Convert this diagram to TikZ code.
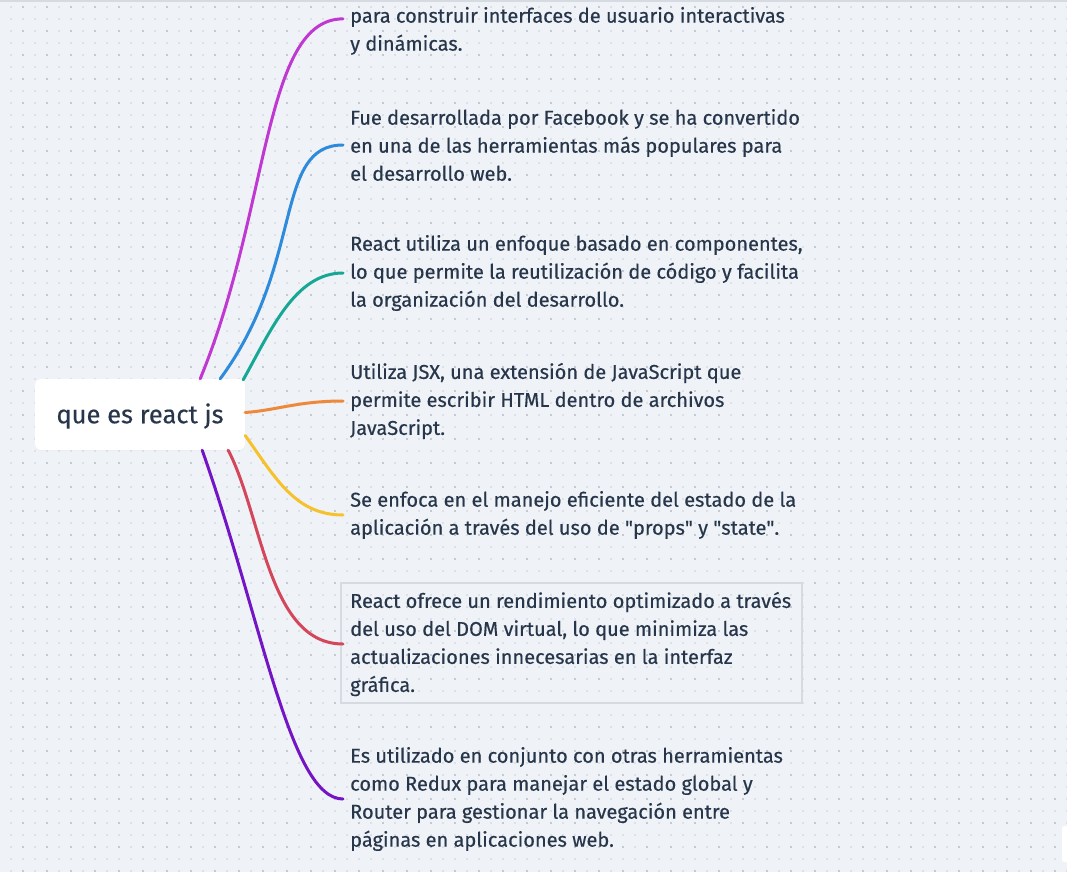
\documentclass[tikz,border=0pt]{standalone}
\usepackage{fontspec}
\setmainfont[FakeBold=0.4]{Fira Sans}
\usetikzlibrary{calc,shadows}
\definecolor{bgcol}{HTML}{EFF2F6}
\definecolor{dotlight}{HTML}{DCE1E7}
\definecolor{dotdark}{HTML}{C3C9D1}
\definecolor{ink}{HTML}{27364A}
\definecolor{cmagenta}{HTML}{C038D2}
\definecolor{cblue}{HTML}{2E8ADB}
\definecolor{cteal}{HTML}{17A895}
\definecolor{corange}{HTML}{EE883A}
\definecolor{cyellow}{HTML}{F6C22B}
\definecolor{cred}{HTML}{D4475B}
\definecolor{cpurple}{HTML}{7314C5}
\definecolor{selline}{HTML}{D6DBE1}
\tikzset{
	branch/.style={line width=3pt,line cap=round},
	leaf/.style={anchor=west,align=left,inner xsep=7pt,inner ysep=0pt,text=ink,font=\fontsize{20}{28}\selectfont},
	rootbox/.style={fill=white,rounded corners=6pt,minimum width=210pt,minimum height=71pt,text height=21pt,text depth=3.5pt,text=ink,font=\fontsize{25.5}{28}\selectfont,drop shadow={opacity=0.06,shadow xshift=0pt,shadow yshift=-1pt}}
}
\begin{document}
\begin{tikzpicture}[x=1pt,y=-1pt]
	\useasboundingbox (0,0) rectangle (1067,872);
	\fill[bgcol] (0,0) rectangle (1067,872);
	\fill[dotlight] \foreach \x in {11,23,...,1067}{\foreach \y in {7,19,...,872}{(\x-0.8,\y-0.8) rectangle ++(1.7,1.7)}};
	\fill[dotdark] \foreach \x in {23,47,...,1067}{\foreach \y in {7,31,...,872}{(\x-0.8,\y-0.8) rectangle ++(1.7,1.7)}};
	\fill[selline] (0,0) rectangle (1067,2.5);

	\node[rootbox] (root) at (140,414.5) {que es react js};

	\node[leaf] (lib) at (343,31) {para construir interfaces de usuario interactivas\\y dinámicas.};
	\node[leaf] (facebook) at (343,145) {Fue desarrollada por Facebook y se ha convertido\\en una de las herramientas más populares para\\el desarrollo web.};
	\node[leaf] (componentes) at (343,273) {React utiliza un enfoque basado en componentes,\\lo que permite la reutilización de código y facilita\\la organización del desarrollo.};
	\node[leaf] (jsx) at (343,401) {Utiliza JSX, una extensión de JavaScript que\\permite escribir HTML dentro de archivos\\JavaScript.};
	\node[leaf] (estado) at (343,515) {Se enfoca en el manejo eficiente del estado de la\\aplicación a través del uso de \textquotedbl props\textquotedbl{} y \textquotedbl state\textquotedbl.};
	\node[leaf] (dom) at (343,644) {React ofrece un rendimiento optimizado a través\\del uso del DOM virtual, lo que minimiza las\\actualizaciones innecesarias en la interfaz\\gráfica.};
	\node[leaf] (redux) at (343,799) {Es utilizado en conjunto con otras herramientas\\como Redux para manejar el estado global y\\Router para gestionar la navegación entre\\páginas en aplicaciones web.};

	\draw[line width=1.2pt,selline] (341,583) rectangle (802,703);

	\draw[branch,cmagenta] ($(root.north east)+(-45,0)$) .. controls +(70,-170) and +(-80,0) .. ($(lib.north west)+(0,12)$);
	\draw[branch,cblue] ($(root.north east)+(-25,0)$) .. controls +(85,-115) and +(-70,0) .. (facebook.west);
	\draw[branch,cteal] ($(root.north east)+(-2,1)$) .. controls +(28,-50) and +(-48,0) .. (componentes.west);
	\draw[branch,corange] ($(root.east)+(0,-2)$) .. controls +(30,-2) and +(-45,0) .. (jsx.west);
	\draw[branch,cyellow] ($(root.east)+(0,21)$) .. controls +(30,42) and +(-48,0) .. (estado.west);
	\draw[branch,cred] ($(root.south east)+(-17,0)$) .. controls +(34,65) and +(-75,0) .. (dom.west);
	\draw[branch,cpurple] ($(root.south east)+(-43,0)$) .. controls +(60,170) and +(-53,0) .. (redux.west);

	\fill[white,rounded corners=2pt] (1062,826) rectangle (1070,862);
\end{tikzpicture}
\end{document}
